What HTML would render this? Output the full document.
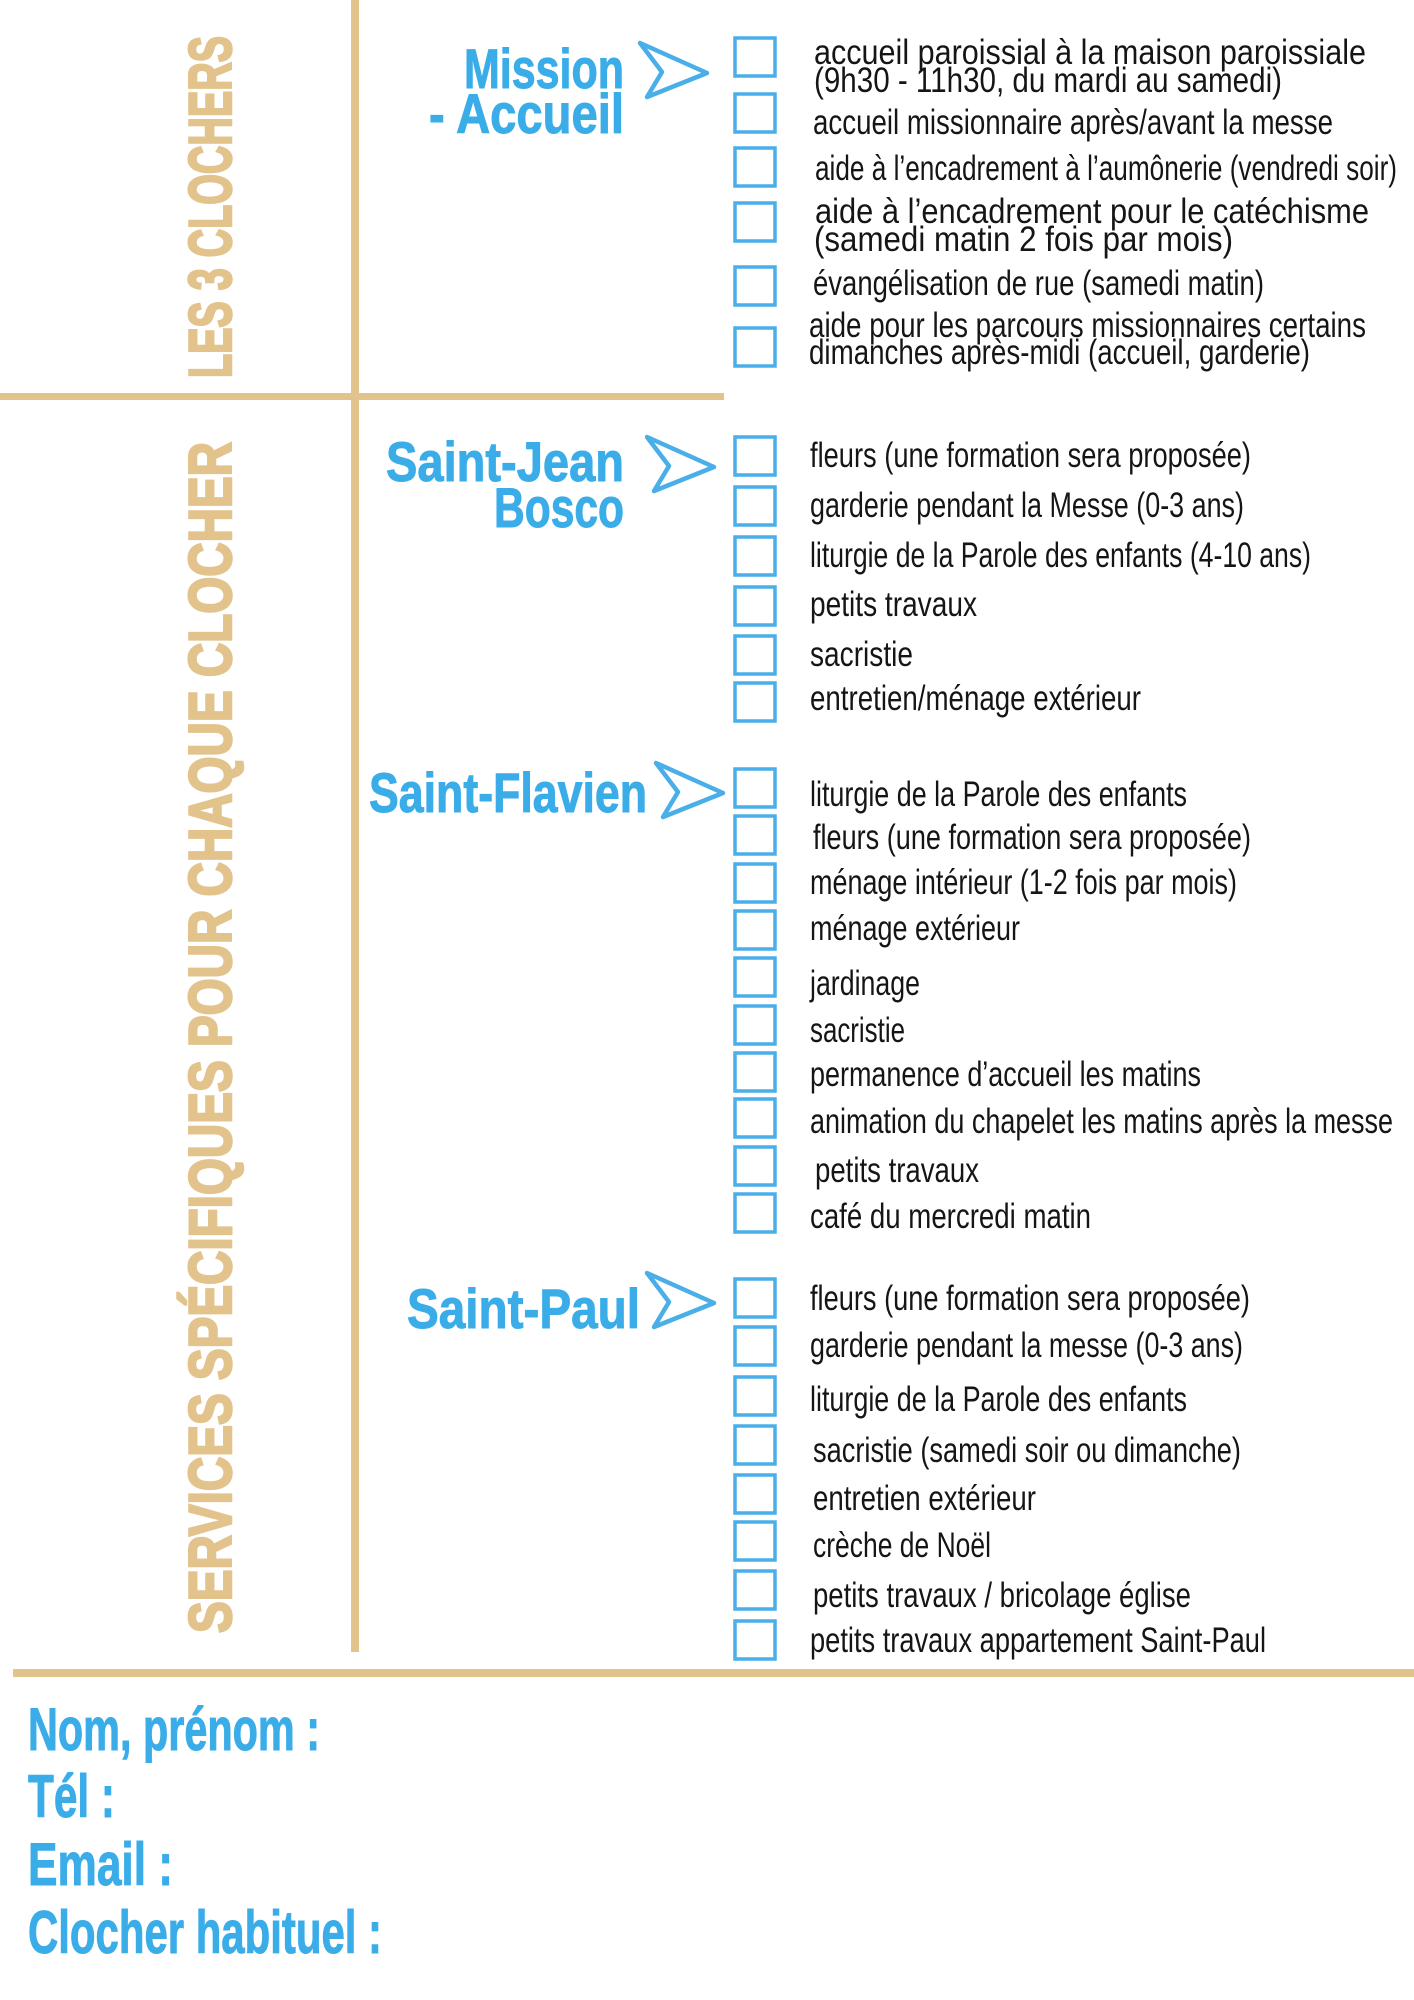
<!DOCTYPE html>
<html><head><meta charset="utf-8"><style>
html,body{margin:0;padding:0;background:#fff}
svg{display:block}
.t{font-family:"Liberation Sans",sans-serif;font-size:35px;fill:#151515}
.h{font-family:"Liberation Sans",sans-serif;font-weight:bold;font-size:56px;fill:#3AADE9;stroke:#3AADE9;stroke-width:1}
.v{font-family:"Liberation Sans",sans-serif;font-weight:bold;font-size:60px;fill:#E3C38C;stroke:#E3C38C;stroke-width:2.5}
.f{font-family:"Liberation Sans",sans-serif;font-weight:bold;font-size:60px;fill:#3AADE9;stroke:#3AADE9;stroke-width:1}
</style></head><body>
<svg width="1414" height="2000" viewBox="0 0 1414 2000" xmlns="http://www.w3.org/2000/svg">
<g fill="#E3C38C">
<rect x="351" y="0" width="8" height="1652"/>
<rect x="0" y="393" width="724" height="7"/>
<rect x="13" y="1669" width="1401" height="8"/>
</g>
<text class="v" transform="translate(231,378) rotate(-90)" textLength="342" lengthAdjust="spacingAndGlyphs">LES 3 CLOCHERS</text>
<text class="v" transform="translate(231,1633) rotate(-90)" textLength="1191" lengthAdjust="spacingAndGlyphs">SERVICES SPÉCIFIQUES POUR CHAQUE CLOCHER</text>

<g fill="none" stroke="#4AAEE8" stroke-width="4.5" stroke-linejoin="round">
<polygon points="640,43 707,73 647,97 662,72"/>
<polygon points="647,437 714,467 654,491 669,466"/>
<polygon points="656,763 723,793 663,817 678,792"/>
<polygon points="647,1273 714,1303 654,1327 669,1302"/>
</g>

<text class="h" x="464" y="88" textLength="160" lengthAdjust="spacingAndGlyphs">Mission</text>
<text class="h" x="429" y="133" textLength="195" lengthAdjust="spacingAndGlyphs">- Accueil</text>
<text class="h" x="386" y="481" textLength="238" lengthAdjust="spacingAndGlyphs">Saint-Jean</text>
<text class="h" x="494" y="527" textLength="130" lengthAdjust="spacingAndGlyphs">Bosco</text>
<text class="h" x="369" y="812" textLength="278" lengthAdjust="spacingAndGlyphs">Saint-Flavien</text>
<text class="h" x="407" y="1328" textLength="233" lengthAdjust="spacingAndGlyphs">Saint-Paul</text>

<g fill="none" stroke="#4AAEE8" stroke-width="3.5">
<rect x="735" y="38" width="40" height="38"/>
<rect x="735" y="94" width="40" height="38"/>
<rect x="735" y="148" width="40" height="38"/>
<rect x="735" y="203" width="40" height="38"/>
<rect x="735" y="267" width="40" height="38"/>
<rect x="735" y="328" width="40" height="38"/>

<rect x="735" y="437" width="40" height="38"/>
<rect x="735" y="487" width="40" height="38"/>
<rect x="735" y="537" width="40" height="38"/>
<rect x="735" y="587" width="40" height="38"/>
<rect x="735" y="636" width="40" height="38"/>
<rect x="735" y="683" width="40" height="38"/>

<rect x="735" y="769" width="40" height="38"/>
<rect x="735" y="816" width="40" height="38"/>
<rect x="735" y="864" width="40" height="38"/>
<rect x="735" y="911" width="40" height="38"/>
<rect x="735" y="958" width="40" height="38"/>
<rect x="735" y="1006" width="40" height="38"/>
<rect x="735" y="1053" width="40" height="38"/>
<rect x="735" y="1099" width="40" height="38"/>
<rect x="735" y="1147" width="40" height="38"/>
<rect x="735" y="1194" width="40" height="38"/>

<rect x="735" y="1279" width="40" height="38"/>
<rect x="735" y="1327" width="40" height="38"/>
<rect x="735" y="1377" width="40" height="38"/>
<rect x="735" y="1426" width="40" height="38"/>
<rect x="735" y="1475" width="40" height="38"/>
<rect x="735" y="1522" width="40" height="38"/>
<rect x="735" y="1571" width="40" height="38"/>
<rect x="735" y="1621" width="40" height="38"/>
</g>

<g>
<text class="t" x="814" y="64" textLength="552" lengthAdjust="spacingAndGlyphs">accueil paroissial à la maison paroissiale</text>
<text class="t" x="814" y="92" textLength="468" lengthAdjust="spacingAndGlyphs">(9h30 - 11h30, du mardi au samedi)</text>
<text class="t" x="813" y="134" textLength="520" lengthAdjust="spacingAndGlyphs">accueil missionnaire après/avant la messe</text>
<text class="t" x="815" y="180" textLength="582" lengthAdjust="spacingAndGlyphs">aide à l’encadrement à l’aumônerie (vendredi soir)</text>
<text class="t" x="815" y="223" textLength="554" lengthAdjust="spacingAndGlyphs">aide à l’encadrement pour le catéchisme</text>
<text class="t" x="814" y="251" textLength="419" lengthAdjust="spacingAndGlyphs">(samedi matin 2 fois par mois)</text>
<text class="t" x="813" y="295" textLength="451" lengthAdjust="spacingAndGlyphs">évangélisation de rue (samedi matin)</text>
<text class="t" x="809" y="337" textLength="557" lengthAdjust="spacingAndGlyphs">aide pour les parcours missionnaires certains</text>
<text class="t" x="809" y="364" textLength="501" lengthAdjust="spacingAndGlyphs">dimanches après-midi (accueil, garderie)</text>

<text class="t" x="810" y="467" textLength="441" lengthAdjust="spacingAndGlyphs">fleurs (une formation sera proposée)</text>
<text class="t" x="810" y="517" textLength="434" lengthAdjust="spacingAndGlyphs">garderie pendant la Messe  (0-3 ans)</text>
<text class="t" x="810" y="567" textLength="501" lengthAdjust="spacingAndGlyphs">liturgie de la Parole des enfants (4-10 ans)</text>
<text class="t" x="810" y="616" textLength="167" lengthAdjust="spacingAndGlyphs">petits travaux</text>
<text class="t" x="810" y="666" textLength="103" lengthAdjust="spacingAndGlyphs">sacristie</text>
<text class="t" x="810" y="710" textLength="331" lengthAdjust="spacingAndGlyphs">entretien/ménage extérieur</text>

<text class="t" x="810" y="806" textLength="377" lengthAdjust="spacingAndGlyphs">liturgie de la Parole des enfants</text>
<text class="t" x="813" y="849" textLength="438" lengthAdjust="spacingAndGlyphs">fleurs (une formation sera proposée)</text>
<text class="t" x="810" y="894" textLength="427" lengthAdjust="spacingAndGlyphs">ménage intérieur (1-2 fois par mois)</text>
<text class="t" x="810" y="940" textLength="210" lengthAdjust="spacingAndGlyphs">ménage extérieur</text>
<text class="t" x="810" y="995" textLength="110" lengthAdjust="spacingAndGlyphs">jardinage</text>
<text class="t" x="810" y="1042" textLength="95" lengthAdjust="spacingAndGlyphs">sacristie</text>
<text class="t" x="810" y="1086" textLength="391" lengthAdjust="spacingAndGlyphs">permanence d’accueil les matins</text>
<text class="t" x="810" y="1133" textLength="583" lengthAdjust="spacingAndGlyphs">animation du chapelet les matins après la messe</text>
<text class="t" x="815" y="1182" textLength="164" lengthAdjust="spacingAndGlyphs">petits travaux</text>
<text class="t" x="810" y="1228" textLength="281" lengthAdjust="spacingAndGlyphs">café du mercredi matin</text>

<text class="t" x="810" y="1310" textLength="440" lengthAdjust="spacingAndGlyphs">fleurs (une formation sera proposée)</text>
<text class="t" x="810" y="1357" textLength="433" lengthAdjust="spacingAndGlyphs">garderie pendant la messe (0-3 ans)</text>
<text class="t" x="810" y="1411" textLength="377" lengthAdjust="spacingAndGlyphs">liturgie de la Parole des enfants</text>
<text class="t" x="813" y="1462" textLength="428" lengthAdjust="spacingAndGlyphs">sacristie (samedi soir ou dimanche)</text>
<text class="t" x="813" y="1510" textLength="223" lengthAdjust="spacingAndGlyphs">entretien extérieur</text>
<text class="t" x="813" y="1557" textLength="178" lengthAdjust="spacingAndGlyphs">crèche de Noël</text>
<text class="t" x="813" y="1607" textLength="378" lengthAdjust="spacingAndGlyphs">petits travaux / bricolage église</text>
<text class="t" x="810" y="1652" textLength="456" lengthAdjust="spacingAndGlyphs">petits travaux appartement Saint-Paul</text>
</g>

<text class="f" x="28" y="1750" textLength="292" lengthAdjust="spacingAndGlyphs">Nom, prénom :</text>
<text class="f" x="28" y="1817" textLength="87" lengthAdjust="spacingAndGlyphs">Tél :</text>
<text class="f" x="28" y="1885" textLength="145" lengthAdjust="spacingAndGlyphs">Email  :</text>
<text class="f" x="28" y="1953" textLength="354" lengthAdjust="spacingAndGlyphs">Clocher habituel :</text>
</svg>
</body></html>
